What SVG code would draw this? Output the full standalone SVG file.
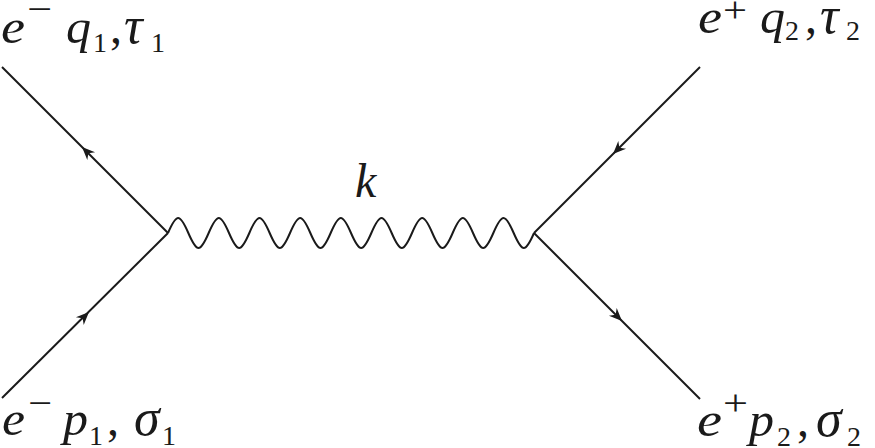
<svg xmlns="http://www.w3.org/2000/svg" xmlns:xlink="http://www.w3.org/1999/xlink" width="875" height="448" viewBox="0 0 875 448">
<style>
.lbl{font-family:"Liberation Serif","DejaVu Serif",serif;font-size:48px;fill:#1a1a1a}
.it{font-style:italic}
.gr{font-style:italic;font-size:52px}
.sub{font-size:28px}
.sup{font-size:36px}
.ln{stroke:#1a1a1a;stroke-width:2;fill:none}
.ah{fill:#1a1a1a}
</style>
<defs>
<path id="ah" d="M0,0 L-13,-5.5 L-9,0 L-13,5.5 Z"/>
</defs>
<rect width="875" height="448" fill="#ffffff"/>
<g id="connectors">
<line class="ln" x1="2" y1="67" x2="168" y2="233"/>
<line class="ln" x1="2" y1="398" x2="168" y2="233"/>
<line class="ln" x1="700" y1="67" x2="534" y2="233"/>
<line class="ln" x1="534" y1="233" x2="700" y2="399"/>
<path id="photon" class="ln" d="M168,233 c3.316,-7.684 6.849,-15 10.167,-15
s6.851,7.316 10.167,15 s6.849,15 10.167,15 s6.851,-7.316 10.167,-15 s6.849,-15 10.167,-15
s6.851,7.316 10.167,15 s6.849,15 10.167,15 s6.851,-7.316 10.167,-15 s6.849,-15 10.167,-15
s6.851,7.316 10.167,15 s6.849,15 10.167,15 s6.851,-7.316 10.167,-15 s6.849,-15 10.167,-15
s6.851,7.316 10.167,15 s6.849,15 10.167,15 s6.851,-7.316 10.167,-15 s6.849,-15 10.167,-15
s6.851,7.316 10.167,15 s6.849,15 10.167,15 s6.851,-7.316 10.167,-15 s6.849,-15 10.167,-15
s6.851,7.316 10.167,15 s6.849,15 10.167,15 s6.851,-7.316 10.167,-15 s6.849,-15 10.167,-15
s6.851,7.316 10.167,15 s6.849,15 10.167,15 s6.851,-7.316 10.167,-15 s6.849,-15 10.167,-15
s6.851,7.316 10.167,15 s6.849,15 10.167,15 s6.851,-7.316 10.167,-15 s6.849,-15 10.167,-15
s6.851,7.316 10.167,15 s6.849,15 10.167,15 s6.851,-7.316 10.167,-15"/>
<use class="ah" xlink:href="#ah" href="#ah" transform="translate(82,147) rotate(225)"/>
<use class="ah" xlink:href="#ah" href="#ah" transform="translate(89,312) rotate(-45)"/>
<use class="ah" xlink:href="#ah" href="#ah" transform="translate(613,154) rotate(135)"/>
<use class="ah" xlink:href="#ah" href="#ah" transform="translate(622,321) rotate(45)"/>
</g>
<g id="label-e-minus-out">
<text class="lbl"><tspan class="it" x="1" y="43" textLength="24" lengthAdjust="spacingAndGlyphs">e</tspan><tspan class="sup" x="27" y="21" textLength="25" lengthAdjust="spacingAndGlyphs">−</tspan><tspan class="it" x="66" y="43" textLength="25" lengthAdjust="spacingAndGlyphs">q</tspan><tspan class="sub" x="93" y="52">1</tspan><tspan x="110" y="43">,</tspan><tspan class="gr" x="124" y="43">τ</tspan><tspan class="sub" x="151" y="52">1</tspan></text>
</g>
<g id="label-e-plus-out">
<text class="lbl"><tspan class="it" x="698" y="33" textLength="24" lengthAdjust="spacingAndGlyphs">e</tspan><tspan class="sup" x="723" y="22" textLength="24" lengthAdjust="spacingAndGlyphs">+</tspan><tspan class="it" x="760" y="33" textLength="25" lengthAdjust="spacingAndGlyphs">q</tspan><tspan class="sub" x="785" y="40">2</tspan><tspan x="805" y="33">,</tspan><tspan class="gr" x="820" y="33">τ</tspan><tspan class="sub" x="846" y="40">2</tspan></text>
</g>
<g id="label-e-minus-in">
<text class="lbl"><tspan class="it" x="2" y="435" textLength="23" lengthAdjust="spacingAndGlyphs">e</tspan><tspan class="sup" x="28" y="415" textLength="24" lengthAdjust="spacingAndGlyphs">−</tspan><tspan class="it" x="63" y="435" textLength="25" lengthAdjust="spacingAndGlyphs">p</tspan><tspan class="sub" x="89" y="445">1</tspan><tspan x="107" y="435">,</tspan><tspan class="gr" x="134" y="435">σ</tspan><tspan class="sub" x="162" y="445">1</tspan></text>
</g>
<g id="label-e-plus-in">
<text class="lbl"><tspan class="it" x="697" y="436" textLength="25" lengthAdjust="spacingAndGlyphs">e</tspan><tspan class="sup" x="723" y="415" textLength="25" lengthAdjust="spacingAndGlyphs">+</tspan><tspan class="it" x="749" y="436" textLength="25" lengthAdjust="spacingAndGlyphs">p</tspan><tspan class="sub" x="777" y="446">2</tspan><tspan x="797" y="436">,</tspan><tspan class="gr" x="816" y="436">σ</tspan><tspan class="sub" x="847" y="446">2</tspan></text>
</g>
<g id="label-k">
<text class="lbl it" x="355" y="197">k</text>
</g>
</svg>
